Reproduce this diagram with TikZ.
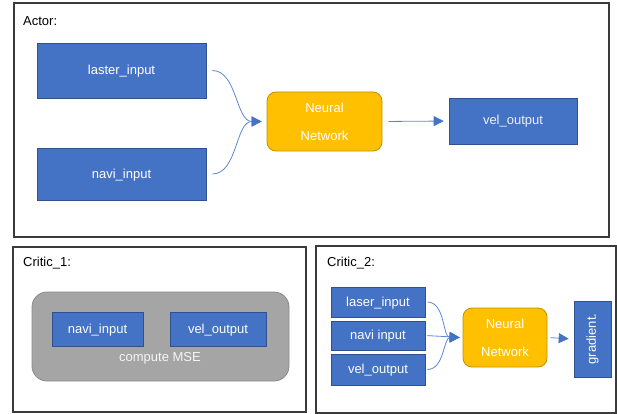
\documentclass[tikz,border=0pt]{standalone}
\usepackage{fontspec}
\setmainfont{Liberation Sans}
\usetikzlibrary{arrows.meta}
\definecolor{boxblue}{HTML}{4472C4}
\definecolor{boxblueline}{HTML}{2F528F}
\definecolor{nnfill}{HTML}{FFC000}
\definecolor{nnline}{HTML}{BF9000}
\definecolor{grayfill}{HTML}{A5A5A5}
\definecolor{grayline}{HTML}{8A8A8A}
\definecolor{arrowblue}{HTML}{5B87D0}
\definecolor{tipblue}{HTML}{4472C4}
\definecolor{framecol}{HTML}{3A3A3A}
\tikzset{
  bluebox/.style={draw=boxblueline, fill=boxblue, line width=0.6pt, text=white,
    inner sep=0pt, text height=10pt, text depth=2pt, font=\fontsize{13}{15}\selectfont},
  nnbox/.style={draw=nnline, fill=nnfill, line width=0.8pt, rounded corners=9pt, text=white,
    align=center, inner sep=0pt, font=\fontsize{13}{28}\selectfont},
  frame/.style={draw=framecol, line width=1.3pt},
  title/.style={anchor=west, inner sep=0pt, font=\fontsize{13}{15}\selectfont},
  flow/.style={draw=arrowblue, line width=0.8pt,
    -{Triangle[length=10pt,width=10pt,color=tipblue]},
    shorten <=6pt, shorten >=5pt},
}
\begin{document}
\begin{tikzpicture}[x=1pt, y=-1pt]
\useasboundingbox (0,0) rectangle (617,414);
% ---------- Actor ----------
\draw[frame] (14,3) rectangle (609,237);
\node[title] (actortitle) at (23,21) {Actor:};
\node[bluebox, minimum width=169pt, minimum height=55pt] (alaser) at (121.5,70.5) {laster\_input};
\node[bluebox, minimum width=169pt, minimum height=52pt] (anavi) at (121.5,174) {navi\_input};
\node[nnbox, minimum width=115pt, minimum height=59pt] (ann) at (324.5,121.5) {Neural\\Network};
\node[bluebox, minimum width=128pt, minimum height=46pt, text=white!90!boxblue] (avel) at (513,121) {vel\_output};
\draw[flow] (alaser.east) to[out=0,in=180] (ann.west);
\draw[flow] (anavi.east) to[out=0,in=180] (ann.west);
\draw[flow] (ann.east) -- (avel.west);
% ---------- Critic_1 ----------
\draw[frame] (13,247) rectangle (306,412);
\node[title] (c1title) at (23,263) {Critic\_1:};
\node[draw=grayline, fill=grayfill, line width=0.8pt, rounded corners=15pt,
  minimum width=257pt, minimum height=89pt, inner sep=0pt] (mse) at (160.5,336.5) {};
\node[bluebox, minimum width=91pt, minimum height=34pt] (cnavi) at (97.5,329) {navi\_input};
\node[bluebox, minimum width=96pt, minimum height=34pt] (cvel) at (218,329) {vel\_output};
\node[text=white!92!gray, inner sep=0pt, font=\fontsize{13}{15}\selectfont] (msetext) at (160,358) {compute MSE};
% ---------- Critic_2 ----------
\draw[frame] (316,246) rectangle (616,413);
\node[title] (c2title) at (327,263) {Critic\_2:};
\node[bluebox, minimum width=94pt, minimum height=30pt] (dlaser) at (378,302) {laser\_input};
\node[bluebox, minimum width=94pt, minimum height=29pt] (dnavi) at (378,335.5) {navi input};
\node[bluebox, minimum width=94pt, minimum height=31pt] (dvel) at (378,369.5) {vel\_output};
\node[nnbox, minimum width=84pt, minimum height=59pt] (dnn) at (505,337.5) {Neural\\Network};
\node[bluebox, minimum width=37pt, minimum height=76pt] (dgrad) at (592.5,339) {};
\node[text=white, inner sep=0pt, rotate=90, font=\fontsize{13}{15}\selectfont] (dgradtext) at (592.5,339) {gradient.};
\draw[flow, shorten <=2pt, shorten >=3pt] (dlaser.east) to[out=0,in=180] (dnn.west);
\draw[flow, shorten <=2pt, shorten >=3pt] (dnavi.east) -- (dnn.west);
\draw[flow, shorten <=2pt, shorten >=3pt] (dvel.east) to[out=0,in=180] (dnn.west);
\draw[flow, shorten <=3pt, shorten >=5pt] (dnn.east) -- (dgrad.west);
\end{tikzpicture}
\end{document}
